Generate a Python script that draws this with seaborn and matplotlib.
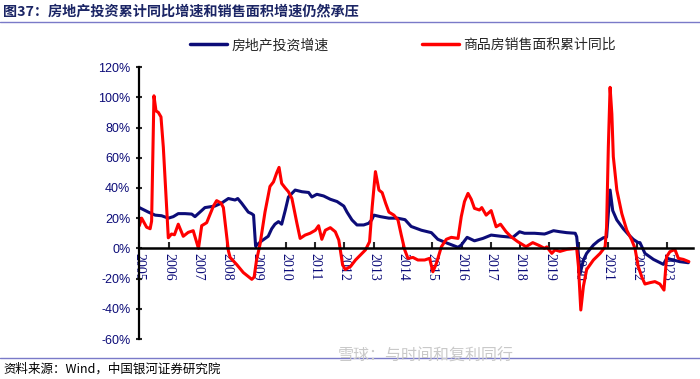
import numpy as np
import pandas as pd
import matplotlib
matplotlib.use("Agg")
import matplotlib.pyplot as plt
import seaborn as sns
from matplotlib.lines import Line2D

# Data (time as decimal year)
inv_year = [2005.0, 2005.31, 2005.54, 2005.76, 2005.99, 2006.16, 2006.33, 2006.56, 2006.79, 2006.9,
            2007.07, 2007.24, 2007.58, 2007.81, 2008.04, 2008.27, 2008.36, 2008.49, 2008.72, 2008.83,
            2008.9, 2008.97, 2009.18, 2009.4, 2009.52, 2009.63, 2009.75, 2009.86, 2009.98, 2010.09,
            2010.32, 2010.55, 2010.78, 2010.89, 2011.06, 2011.29, 2011.52, 2011.75, 2011.98, 2012.09,
            2012.26, 2012.43, 2012.66, 2012.83, 2012.93, 2013.01, 2013.23, 2013.52, 2013.81, 2014.07,
            2014.28, 2014.63, 2014.97, 2015.19, 2015.53, 2015.88, 2015.99, 2016.19, 2016.44, 2016.73,
            2017.01, 2017.35, 2017.75, 2017.98, 2018.15, 2018.49, 2018.83, 2018.91, 2019.14, 2019.36,
            2019.59, 2019.88, 2019.93, 2020.05, 2020.16, 2020.27, 2020.5, 2020.67, 2020.84, 2020.95,
            2021.07, 2021.16, 2021.3, 2021.52, 2021.69, 2021.86, 2022.03, 2022.09, 2022.26, 2022.55,
            2022.89, 2023.0, 2023.23, 2023.45, 2023.74]
inv_val = [27, 24, 22, 21.6, 20, 21, 23, 23, 22.7, 21,
           24, 27, 28, 30, 33, 32, 33, 30, 24, 23,
           22, 1.5, 5, 8, 13, 16, 17.7, 16, 25, 34,
           38.6, 37.5, 37, 34, 35.8, 34.7, 32.5, 31, 28, 24,
           18.8, 15.5, 15.5, 16.6, 18.8, 22, 21, 20, 20, 19,
           14.5, 12, 10.4, 6, 3.3, 0.7, 2.2, 7.3, 5, 6.6,
           8.8, 8, 7.3, 11, 10, 10, 9.5, 10, 11.7, 11,
           10.4, 10, 7.7, -16.6, -7.7, -3.3, 2.2, 5, 7, 7.5,
           38.6, 25, 18.8, 13, 9.3, 6, 3.8, 3.8, -3.3, -7.3,
           -10.6, -6.6, -7.7, -8.8, -9.5]

sales_year = [2005.0, 2005.08, 2005.25, 2005.37, 2005.42, 2005.5, 2005.57, 2005.65, 2005.74, 2005.82,
              2005.99, 2006.1, 2006.2, 2006.33, 2006.5, 2006.67, 2006.84, 2007.02, 2007.13, 2007.3,
              2007.53, 2007.64, 2007.79, 2007.87, 2008.04, 2008.1, 2008.32, 2008.55, 2008.84, 2008.92,
              2009.0, 2009.12, 2009.29, 2009.46, 2009.58, 2009.69, 2009.77, 2009.86, 2009.98, 2010.09,
              2010.21, 2010.38, 2010.49, 2010.66, 2010.83, 2011.01, 2011.12, 2011.23, 2011.35, 2011.52,
              2011.69, 2011.81, 2011.94, 2012.03, 2012.21, 2012.38, 2012.55, 2012.72, 2012.86, 2012.95,
              2013.06, 2013.18, 2013.29, 2013.41, 2013.52, 2013.69, 2013.83, 2013.94, 2014.06, 2014.17,
              2014.34, 2014.51, 2014.74, 2014.91, 2015.02, 2015.14, 2015.31, 2015.48, 2015.65, 2015.88,
              2015.99, 2016.1, 2016.22, 2016.33, 2016.44, 2016.61, 2016.69, 2016.84, 2017.01, 2017.18,
              2017.33, 2017.52, 2017.69, 2017.92, 2018.2, 2018.43, 2018.66, 2018.83, 2018.91, 2019.08,
              2019.19, 2019.36, 2019.59, 2019.93, 2019.99, 2020.07, 2020.16, 2020.27, 2020.5, 2020.73,
              2020.9, 2020.95, 2021.01, 2021.07, 2021.13, 2021.18, 2021.3, 2021.47, 2021.64, 2021.81,
              2021.92, 2022.03, 2022.15, 2022.26, 2022.43, 2022.6, 2022.77, 2022.91, 2023.0, 2023.11,
              2023.28, 2023.4, 2023.57, 2023.76]
sales_val = [15, 20, 14, 13, 18, 101, 91, 90, 87, 67,
             7, 9.5, 9, 16, 8, 10.6, 11.7, 0, 15, 17,
             28, 31.6, 30, 27, -1.5, -6, -10.6, -16, -20.5, -19,
             -8, 2.6, 24, 41, 44, 50, 53.6, 43, 40, 37.5,
             33, 16.6, 6.6, 8.8, 10, 12, 15, 6, 12, 13.7,
             11, 5.5, -11, -14, -12, -7.7, -4.4, -1, 4.4, 27.6,
             50.8, 38.6, 36.9, 29.8, 24, 22, 18.8, 9, -1, -6.6,
             -6, -7.7, -7.7, -6.6, -15.5, -10, 1, 6, 7.3, 6.6,
             21, 31, 36.4, 32.5, 26.5, 25.4, 27, 22, 25, 14.3,
             16, 11, 7.7, 4.4, 1.1, 3.8, 1.8, 0, 1, -3.3,
             -1, -2, -0.7, 0, -12, -40.8, -25, -14, -7.7, -3.3,
             1, 14, 67, 106.6, 89, 60.7, 38.6, 23, 12, 5.5,
             0, -12, -18.8, -23.6, -22.7, -22, -23.6, -27.6, -5.5, -2.2,
             -0.7, -6.6, -7.3, -8.8]

years = list(range(2005, 2024))
y_ticks = [-60, -40, -20, 0, 20, 40, 60, 80, 100, 120]

inv_label = "房地产投资增速"
sales_label = "商品房销售面积累计同比"
title = "图37：房地产投资累计同比增速和销售面积增速仍然承压"
source = "资料来源：Wind，中国银河证券研究院"
watermark = "雪球：与时间和复利同行"

navy = "#0c0c78"
red = "#ff0000"

sns.set_style("white")
plt.rcParams["font.family"] = ["Noto Sans CJK SC", "DejaVu Sans"]

df_inv = pd.DataFrame({"year": inv_year, "val": inv_val})
df_sales = pd.DataFrame({"year": sales_year, "val": sales_val})

fig = plt.figure(figsize=(7, 3.79), dpi=100)
ax = fig.add_axes([0.199, 0.1055, 0.791, 0.7175])

sns.lineplot(data=df_inv, x="year", y="val", color=navy, lw=2.2, ax=ax, legend=False)
sns.lineplot(data=df_sales, x="year", y="val", color=red, lw=2.2, ax=ax, legend=False)

ax.set_xlim(2005.0, 2023.9)
ax.set_ylim(-60, 120)
ax.set_xlabel("")
ax.set_ylabel("")

# axes styling
for s in ["top", "right"]:
    ax.spines[s].set_visible(False)
ax.spines["left"].set_color("black")
ax.spines["left"].set_linewidth(1.6)
ax.spines["bottom"].set_position(("data", 0))
ax.spines["bottom"].set_color("black")
ax.spines["bottom"].set_linewidth(1.8)
ax.set_zorder(1)

ax.set_yticks(y_ticks)
ax.set_yticklabels([f"{v}%" for v in y_ticks], color=navy,
                   fontfamily="Liberation Sans", fontsize=9)
ax.tick_params(axis="y", direction="inout", length=5, width=1.5, pad=4, left=True)

ax.set_xticks(years)
ax.set_xticklabels([str(y) for y in years], rotation=270, color=navy,
                   fontfamily="Liberation Serif", fontsize=10, va="top", ha="center")
ax.tick_params(axis="x", direction="in", length=4, width=1.5, pad=3, bottom=True)

# legend
handles = [Line2D([], [], color=navy, lw=2.5), Line2D([], [], color=red, lw=2.5)]
fig.legend(handles, [inv_label, sales_label], ncol=2, loc="center left",
           bbox_to_anchor=(190 / 700, 1 - 45 / 379), frameon=False, fontsize=10,
           handlelength=2.7, handletextpad=0.3, columnspacing=6.7,
           borderpad=0, borderaxespad=0)

# title, rules, source
fig.text(3 / 700, 1 - 11 / 379, title, fontsize=10.2, fontweight="bold",
         color="#1b2565", ha="left", va="center")
fig.add_artist(Line2D([0, 1], [1 - 21.5 / 379] * 2, color="#7a7ac8", lw=1.0))
fig.add_artist(Line2D([0, 1], [1 - 357.5 / 379] * 2, color="#7a7ac8", lw=1.0))
fig.text(3 / 700, 1 - 369 / 379, source, fontsize=9, style="italic",
         color="black", ha="left", va="center")
fig.text(338 / 700, 1 - 356 / 379, watermark, fontsize=11.5, color="#c9c9c9",
         ha="left", va="center")

fig.savefig("out.png", dpi=100, facecolor="white")
